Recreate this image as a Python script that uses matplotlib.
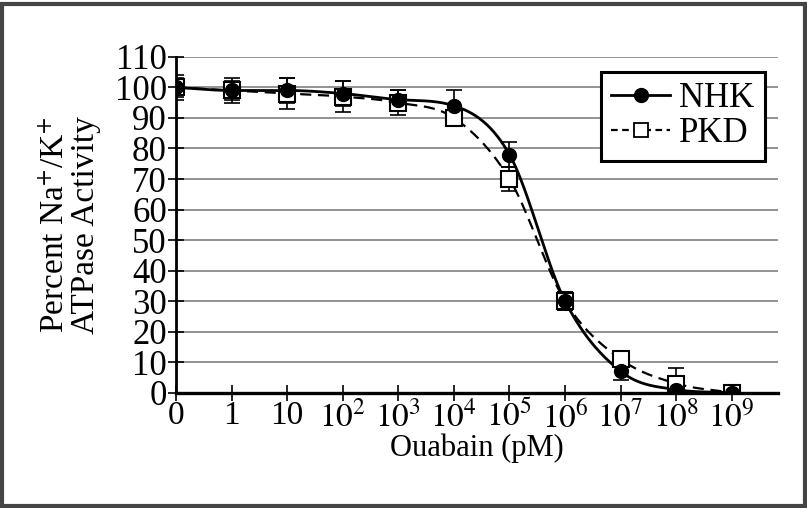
import numpy as np
import matplotlib.pyplot as plt
from matplotlib.patches import Rectangle

plt.rcParams['font.family'] = ['Liberation Serif', 'DejaVu Serif']
plt.rcParams['mathtext.fontset'] = 'stix'

# ouabain concentration (pM), plotted at equally spaced positions
tick_labels = ['0', '1', '10', r'$10^2$', r'$10^3$', r'$10^4$', r'$10^5$',
               r'$10^6$', r'$10^7$', r'$10^8$', r'$10^9$']
pos = np.arange(len(tick_labels))

nhk = [100, 99, 99, 98, 96, 94, 78, 30, 7, 1, 0]
nhk_err = [4, 4, 4, 4, 3, 5, 4, 3, 3, 1, 1]
pkd = [100, 99, 98, 97, 95, 90, 70, 30, 11, 3, 0]
pkd_err = [3, 3, 5, 5, 4, 2, 4, 3, 2, 5, 1]


def smooth(x, y, n=600):
    # cubic hermite through the points, centred tangents limited to stay monotone
    x = np.asarray(x, float)
    y = np.asarray(y, float)
    h = np.diff(x)
    d = np.diff(y) / h
    m = np.zeros_like(y)
    m[0], m[-1] = d[0], d[-1]
    m[1:-1] = (y[2:] - y[:-2]) / (x[2:] - x[:-2])
    for i in range(len(d)):
        if d[i] == 0:
            m[i] = m[i + 1] = 0
            continue
        a, b = m[i] / d[i], m[i + 1] / d[i]
        s = a * a + b * b
        if s > 9:
            tau = 3 / np.sqrt(s)
            m[i], m[i + 1] = tau * a * d[i], tau * b * d[i]
    xs = np.linspace(x[0], x[-1], n)
    k = np.clip(np.searchsorted(x, xs) - 1, 0, len(x) - 2)
    t = (xs - x[k]) / h[k]
    h00 = 2 * t**3 - 3 * t**2 + 1
    h10 = t**3 - 2 * t**2 + t
    h01 = -2 * t**3 + 3 * t**2
    h11 = t**3 - t**2
    ys = h00 * y[k] + h10 * h[k] * m[k] + h01 * y[k + 1] + h11 * h[k] * m[k + 1]
    return xs, ys


fig = plt.figure(figsize=(8.07, 5.08), dpi=100)
ax = fig.add_axes([0.218, 0.227, 0.746, 0.661])

ax.set_xlim(0, 10.83)
ax.set_ylim(0, 110)
ax.set_yticks(range(0, 111, 10))
ax.grid(axis='y', color='#8a8a8a', lw=1.3)
ax.set_axisbelow(True)

xs, ys = smooth(pos, pkd)
ax.plot(xs, ys, color='black', lw=1.6, ls=(0, (5, 3)), zorder=3)
xs, ys = smooth(pos, nhk)
ax.plot(xs, ys, color='black', lw=2.0, zorder=3)

ax.errorbar(pos, pkd, yerr=pkd_err, fmt='none', ecolor='black', elinewidth=1.2,
            capsize=6, capthick=1.2, zorder=4)
ax.errorbar(pos, nhk, yerr=nhk_err, fmt='none', ecolor='black', elinewidth=1.2,
            capsize=6, capthick=1.2, zorder=4)
ax.plot(pos, pkd, 's', mfc='white', mec='black', mew=1.5, ms=11, zorder=5)
ax.plot(pos, nhk, 'o', color='black', ms=10, zorder=6)

# legend proxies
ax.plot([], [], '-o', color='black', lw=2.0, ms=10, label='NHK')
ax.plot([], [], ls=(0, (3, 2)), marker='s', color='black', mfc='white',
        mew=1.3, lw=1.6, ms=10, label='PKD')
h, l = ax.get_legend_handles_labels()
leg = ax.legend(h[-2:], l[-2:], loc='upper right', bbox_to_anchor=(0.978, 0.955),
                fontsize=25, frameon=True, fancybox=False, borderpad=0.3,
                handlelength=1.7, handletextpad=0.25, labelspacing=0.05,
                borderaxespad=0)
leg.get_frame().set_edgecolor('black')
leg.get_frame().set_linewidth(2.2)
leg.get_frame().set_alpha(1)

ax.set_xticks(pos)
ax.set_xticklabels(tick_labels)
for s in ['top', 'right']:
    ax.spines[s].set_visible(False)
ax.spines['left'].set_linewidth(2.0)
ax.spines['bottom'].set_linewidth(2.4)
ax.tick_params(direction='inout', length=11, width=1.2, labelsize=25, pad=1)
ax.tick_params(axis='x', labelsize=24, pad=0)

ax.set_xlabel('Ouabain (pM)', fontsize=22, labelpad=-1)
ax.set_ylabel('Percent Na$^{+}$/K$^{+}$\nATPase Activity', fontsize=24,
              linespacing=1.0, labelpad=10)

fig.patches.append(Rectangle((0.003, 0.003), 0.994, 0.989, transform=fig.transFigure,
                             fill=False, edgecolor='#444444', lw=3))

fig.savefig('out.png', dpi=100)
